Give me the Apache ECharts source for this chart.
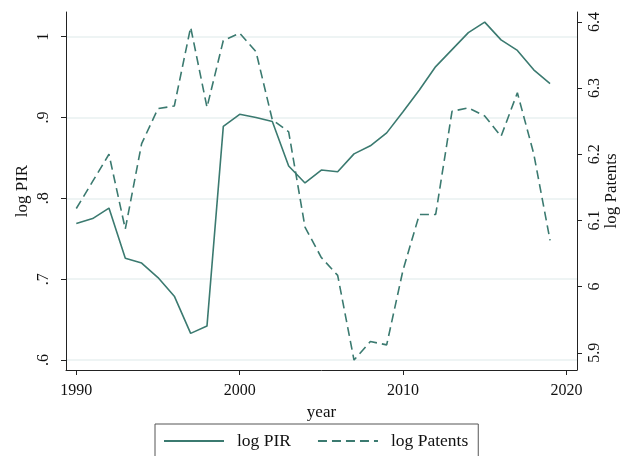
<!DOCTYPE html>
<html><head><meta charset="utf-8">
<script src="https://cdn.jsdelivr.net/npm/echarts@6/dist/echarts.min.js"></script>
<style>html,body{margin:0;padding:0;background:#fff}#c{width:623px;height:456px}</style>
</head><body><div id="c"></div>
<script>
const years = [1990,1991,1992,1993,1994,1995,1996,1997,1998,1999,2000,2001,2002,2003,2004,2005,2006,2007,2008,2009,2010,2011,2012,2013,2014,2015,2016,2017,2018,2019];
const logPIR = [0.769,0.775,0.788,0.726,0.720,0.702,0.679,0.633,0.642,0.889,0.904,0.900,0.895,0.840,0.819,0.835,0.833,0.855,0.865,0.881,0.907,0.934,0.963,0.984,1.005,1.018,0.996,0.983,0.959,0.942];
const logPatents = [6.118,6.159,6.200,6.087,6.216,6.269,6.273,6.392,6.271,6.372,6.383,6.355,6.252,6.234,6.090,6.044,6.017,5.889,5.917,5.912,6.025,6.109,6.109,6.265,6.270,6.258,6.227,6.293,6.201,6.070];
const xTicks = [1990,2000,2010,2020];
const leftTicks = [0.6,0.7,0.8,0.9,1];
const leftTickLabels = ['.6','.7','.8','.9','1'];
const rightTicks = [5.9,6,6.1,6.2,6.3,6.4];
const rightTickLabels = ['5.9','6','6.1','6.2','6.3','6.4'];

const COLOR = '#3b7a70';
const FONT = 'Liberation Serif';
const AX = '#222';
const chart = echarts.init(document.getElementById('c'), null, {renderer:'canvas'});
chart.setOption({
  animation:false,
  grid:{left:66,right:46,top:12,bottom:86,containLabel:false,outerBoundsMode:'none'},
  legend:{
    left:155, top:424, padding:[8,10,16,8], itemGap:26, itemWidth:60, itemHeight:14,
    borderColor:'#555', borderWidth:1,
    itemStyle:{opacity:0},
    textStyle:{fontFamily:FONT,fontSize:17.5,color:'#111',padding:[0,0,0,8]},
    data:['log PIR','log Patents']
  },
  xAxis:{
    type:'value', min:1989.37, max:2020.65,
    name:'year', nameLocation:'middle', nameGap:28,
    nameTextStyle:{fontFamily:FONT,fontSize:17,color:'#111'},
    axisLine:{show:true,onZero:false,lineStyle:{color:AX,width:1}},
    axisTick:{show:true,length:5,customValues:xTicks,lineStyle:{color:AX}},
    axisLabel:{customValues:xTicks,fontFamily:FONT,fontSize:16,color:'#111',margin:13,formatter:v=>String(Math.round(v))},
    splitLine:{show:false}
  },
  yAxis:[{
    type:'value', position:'left', min:0.5877, max:1.0305,
    name:'log PIR', nameLocation:'middle', nameGap:35, nameRotate:90, nameMoveOverlap:false,
    nameTextStyle:{fontFamily:FONT,fontSize:17,color:'#111'},
    axisLine:{show:true,onZero:false,lineStyle:{color:AX,width:1}},
    axisTick:{show:true,length:5,customValues:leftTicks,lineStyle:{color:AX}},
    axisLabel:{customValues:leftTicks,rotate:90,fontFamily:FONT,fontSize:16,color:'#111',margin:14,
      formatter:v=>{const i=leftTicks.findIndex(t=>Math.abs(t-v)<1e-6);return i>=0?leftTickLabels[i]:'';}},
    splitLine:{show:true,lineStyle:{color:'#e8f0f1',width:1.5}}
  },{
    type:'value', position:'right', min:5.874, max:6.415,
    name:'log Patents', nameLocation:'middle', nameGap:26, nameRotate:90, nameMoveOverlap:false,
    nameTextStyle:{fontFamily:FONT,fontSize:17,color:'#111'},
    axisLine:{show:true,onZero:false,lineStyle:{color:AX,width:1}},
    axisTick:{show:true,length:5,customValues:rightTicks,lineStyle:{color:AX}},
    axisLabel:{customValues:rightTicks,rotate:90,fontFamily:FONT,fontSize:16,color:'#111',margin:10,
      formatter:v=>{const i=rightTicks.findIndex(t=>Math.abs(t-v)<1e-6);return i>=0?rightTickLabels[i]:'';}},
    splitLine:{show:false}
  }],
  series:[{
    name:'log PIR', type:'line', yAxisIndex:0, symbol:'none',
    data:years.map((y,i)=>[y,logPIR[i]]),
    lineStyle:{color:COLOR,width:1.6}, itemStyle:{color:COLOR}
  },{
    name:'log Patents', type:'line', yAxisIndex:1, symbol:'none',
    data:years.map((y,i)=>[y,logPatents[i]]),
    lineStyle:{color:COLOR,width:1.6,type:[9,5]}, itemStyle:{color:COLOR}
  }]
});
</script></body></html>
